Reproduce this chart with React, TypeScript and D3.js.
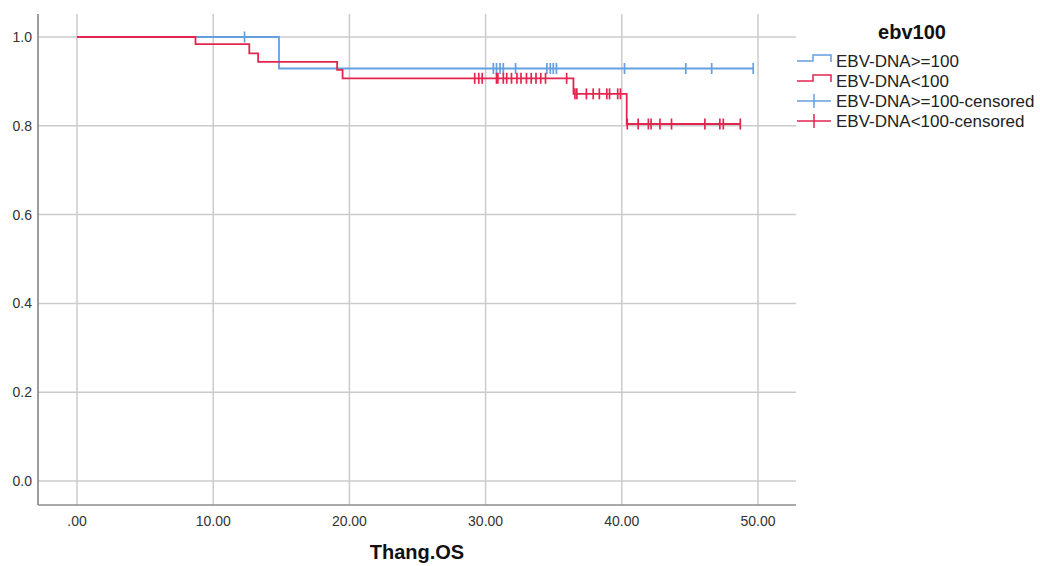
import React from 'react'
import * as d3 from 'd3'

// Kaplan-Meier steps: [time, survival]
const highSteps: [number, number][] = [
  [0, 1],
  [14.83, 0.929],
]
const highEnd = 49.65
const highCensored = [12.3, 30.57, 30.8, 31.06, 31.3, 32.2, 34.5, 34.75, 34.97, 35.2, 40.2, 44.7, 46.6, 49.65]

const lowSteps: [number, number][] = [
  [0, 1],
  [8.7, 0.984],
  [12.65, 0.963],
  [13.3, 0.944],
  [19.1, 0.926],
  [19.5, 0.907],
  [36.45, 0.872],
  [40.36, 0.804],
]
const lowEnd = 48.7
const lowCensored = [
  29.2, 29.5, 29.75, 30.8, 30.9, 31.3, 31.55, 31.9, 32.3, 32.6, 33.0, 33.35, 33.7, 34.05, 34.4, 35.95,
  36.56, 36.7, 37.4, 37.9, 38.35, 38.9, 39.1, 39.7, 39.9,
  40.4, 41.2, 41.95, 42.15, 42.8, 43.65, 46.1, 47.2, 47.45, 48.7,
]

const xTicks = [0, 10, 20, 30, 40, 50]
const yTicks = [0, 0.2, 0.4, 0.6, 0.8, 1.0]

const legendTitle = 'ebv100'
const legendLabels = ['EBV-DNA>=100', 'EBV-DNA<100', 'EBV-DNA>=100-censored', 'EBV-DNA<100-censored']

const BLUE = '#649fdf'
const RED = '#e3264f'
const GRID = '#cbcbcb'
const AXIS = '#8c8c8c'
const FONT = 'Liberation Sans, Arial, sans-serif'

const left = 38, right = 796, top = 14, bottom = 505

const x = d3.scaleLinear().domain([0, 50]).range([77, 758])
const y = d3.scaleLinear().domain([0, 1]).range([481, 37])

function levelAt(steps: [number, number][], t: number) {
  let s = 1
  for (const [st, sv] of steps) if (st <= t) s = sv
  return s
}

const line = d3.line<[number, number]>()
  .x(d => x(d[0]))
  .y(d => y(d[1]))
  .curve(d3.curveStepAfter)

function Series({ steps, end, censored, color }: { steps: [number, number][], end: number, censored: number[], color: string }) {
  const pts: [number, number][] = [...steps, [end, steps[steps.length - 1][1]]]
  return (
    <g>
      <path d={line(pts) || ''} fill="none" stroke={color} strokeWidth={1.8} />
      {censored.map((t, i) => (
        <line key={i} x1={x(t)} x2={x(t)} y1={y(levelAt(steps, t)) - 5.5} y2={y(levelAt(steps, t)) + 5.5}
          stroke={color} strokeWidth={1.7} />
      ))}
    </g>
  )
}

export default function App() {
  const fmtX = (v: number) => (v === 0 ? '.00' : v.toFixed(2))
  const legendY = [61, 81, 101, 121]
  const colors = [BLUE, RED, BLUE, RED]
  return (
    <svg width={1040} height={566} style={{ display: 'block', position: 'absolute', left: 0, top: 0 }}>
      <rect width={1040} height={566} fill="#fff" />
      {/* grid */}
      {yTicks.map(v => (
        <line key={'gy' + v} x1={left} x2={right} y1={y(v)} y2={y(v)} stroke={GRID} strokeWidth={1.5} />
      ))}
      {xTicks.map(v => (
        <line key={'gx' + v} x1={x(v)} x2={x(v)} y1={top} y2={bottom} stroke={GRID} strokeWidth={1.5} />
      ))}
      {/* axes */}
      <line x1={left} x2={left} y1={top} y2={bottom} stroke={AXIS} strokeWidth={1.7} />
      <line x1={left} x2={right} y1={bottom} y2={bottom} stroke={AXIS} strokeWidth={1.7} />
      {yTicks.map(v => (
        <text key={'ty' + v} x={32} y={y(v)} dy="0.35em" textAnchor="end" fontFamily={FONT} fontSize={14} fill="#333">
          {v.toFixed(1)}
        </text>
      ))}
      {xTicks.map(v => (
        <text key={'tx' + v} x={x(v)} y={526} textAnchor="middle" fontFamily={FONT} fontSize={14} fill="#333">
          {fmtX(v)}
        </text>
      ))}
      <text x={417} y={559} textAnchor="middle" fontFamily={FONT} fontSize={20} fontWeight="bold" fill="#111">
        Thang.OS
      </text>

      <Series steps={highSteps} end={highEnd} censored={highCensored} color={BLUE} />
      <Series steps={lowSteps} end={lowEnd} censored={lowCensored} color={RED} />

      {/* legend */}
      <text x={912} y={39} textAnchor="middle" fontFamily={FONT} fontSize={20} fontWeight="bold" fill="#111">
        {legendTitle}
      </text>
      {legendLabels.map((lab, i) => {
        const ly = legendY[i]
        return (
          <g key={lab}>
            {i < 2 ? (
              <path d={`M797,${ly} H813 V${ly - 6} H831 V${ly + 1}`} fill="none" stroke={colors[i]} strokeWidth={1.5} />
            ) : (
              <g>
                <line x1={797} x2={831} y1={ly} y2={ly} stroke={colors[i]} strokeWidth={1.5} />
                <line x1={814} x2={814} y1={ly - 7} y2={ly + 7} stroke={colors[i]} strokeWidth={1.5} />
              </g>
            )}
            <text x={836} y={ly} dy="0.36em" fontFamily={FONT} fontSize={17} fill="#222">
              {lab}
            </text>
          </g>
        )
      })}
    </svg>
  )
}
